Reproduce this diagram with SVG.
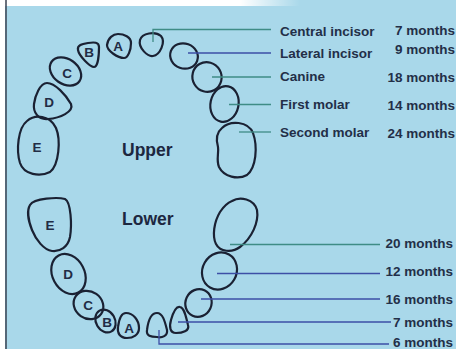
<svg xmlns="http://www.w3.org/2000/svg" width="456" height="349" viewBox="0 0 456 349">
  <defs>
    <linearGradient id="topFade" x1="0" y1="0" x2="1" y2="0">
      <stop offset="0" stop-color="#ffffff"/>
      <stop offset="0.8" stop-color="#ffffff"/>
      <stop offset="1" stop-color="#ffffff" stop-opacity="0"/>
    </linearGradient>
    <style>
      .tooth { fill: none; stroke: #1a2133; stroke-width: 2.2; stroke-linejoin: round; }
      .letter { font-family: "Liberation Sans", Arial, sans-serif; font-weight: bold; font-size: 13.5px; fill: #222c45; text-anchor: middle; }
      .jaw { font-family: "Liberation Sans", Arial, sans-serif; font-weight: bold; font-size: 17.5px; fill: #1d2740; }
      .name { font-family: "Liberation Sans", Arial, sans-serif; font-weight: bold; font-size: 13.5px; fill: #232f48; }
      .age { font-family: "Liberation Sans", Arial, sans-serif; font-weight: bold; font-size: 13.5px; fill: #232f48; text-anchor: end; }
      .lead { fill: none; stroke-width: 1.3; }
      .blue { stroke: #3d4fa6; }
      .teal { stroke: #3f8c86; }
    </style>
  </defs>

  <!-- page background -->
  <rect x="0" y="0" width="456" height="349" fill="#a9d8ea"/>
  <rect x="0" y="0" width="300" height="6" fill="url(#topFade)"/>
  <rect x="0" y="0" width="5" height="349" fill="#ffffff"/>
  <line x1="6" y1="0" x2="6" y2="349" stroke="#3a4250" stroke-width="1.5"/>

  <!-- jaw labels -->
  <text class="jaw" x="122" y="156">Upper</text>
  <text class="jaw" x="122" y="225">Lower</text>

  <!-- upper arch, left side (lettered) -->
  <g id="upper-A">
    <path class="tooth" d="M107,45 C108,38 113,34 118,34 C124,34 131,37 131,43 C131,50 128,58 124,58 C118,58 107,51 107,45 Z"/>
    <text class="letter" x="118" y="51">A</text>
  </g>
  <g id="upper-B">
    <path class="tooth" d="M78,50 C77,45 82,44 88,43 C94,42 99,42 99,47 C99,55 98,67 94,67 C90,67 79,56 78,50 Z"/>
    <text class="letter" x="89" y="57">B</text>
  </g>
  <g id="upper-C">
    <ellipse class="tooth" cx="65.5" cy="71.5" rx="17" ry="12.5" transform="rotate(35 65.5 71.5)"/>
    <text class="letter" x="67" y="78">C</text>
  </g>
  <g id="upper-D">
    <path class="tooth" d="M47,83 C55,83 66,95 71,104 C74,112 60,118 48,119 C38,120 33,112 34,104 C35,96 40,83 47,83 Z"/>
    <text class="letter" x="49" y="107">D</text>
  </g>
  <g id="upper-E">
    <path class="tooth" d="M27,121 C35,114 50,115 56,128 C61,140 59,165 50,172 C40,177 24,175 20,163 C16,150 18,128 27,121 Z"/>
    <text class="letter" x="37" y="152">E</text>
  </g>

  <!-- upper arch, right side (labelled with eruption age) -->
  <g id="upper-central-incisor">
    <path class="tooth" d="M140,40 C142,33 155,31 161,36 C166,42 160,55 153,56 C148,57 138,48 140,40 Z"/>
  </g>
  <g id="upper-lateral-incisor">
    <ellipse class="tooth" cx="184" cy="56" rx="14" ry="12.5" transform="rotate(20 184 56)"/>
  </g>
  <g id="upper-canine">
    <ellipse class="tooth" cx="207" cy="77" rx="14.5" ry="15" transform="rotate(-30 207 77)"/>
  </g>
  <g id="upper-first-molar">
    <ellipse class="tooth" cx="224.5" cy="104" rx="14" ry="18" transform="rotate(12 224.5 104)"/>
  </g>
  <g id="upper-second-molar">
    <path class="tooth" d="M222,128 C230,120 248,121 253,133 C258,147 256,168 247,175 C238,180 224,177 219,167 C216,160 219,153 218,147 C216,140 216,133 222,128 Z"/>
  </g>

  <!-- lower arch, left side (lettered) -->
  <g id="lower-E">
    <path class="tooth" d="M30,205 C34,198 58,197 65,199 C71,202 72,225 70,237 C68,247 60,252 52,251 C44,250 36,240 32,230 C28,220 27,210 30,205 Z"/>
    <text class="letter" x="50" y="230">E</text>
  </g>
  <g id="lower-D">
    <ellipse class="tooth" cx="68.5" cy="274" rx="16" ry="21" transform="rotate(-28 68.5 274)"/>
    <text class="letter" x="68" y="279">D</text>
  </g>
  <g id="lower-C">
    <ellipse class="tooth" cx="88.5" cy="305" rx="15.5" ry="13.5" transform="rotate(35 88.5 305)"/>
    <text class="letter" x="88" y="310">C</text>
  </g>
  <g id="lower-B">
    <ellipse class="tooth" cx="105.5" cy="321" rx="9.5" ry="12" transform="rotate(-30 105.5 321)"/>
    <text class="letter" x="107" y="327">B</text>
  </g>
  <g id="lower-A">
    <path class="tooth" d="M126,313 C133,313 139,320 139,328 C139,335 133,338 127,338 C120,338 117,333 118,327 C119,319 121,313 126,313 Z"/>
    <text class="letter" x="129" y="333">A</text>
  </g>

  <!-- lower arch, right side (labelled with eruption age) -->
  <g id="lower-central-incisor">
    <path class="tooth" d="M157,313 C163,313 165,322 167,330 C168,336 162,338 157,337 C151,337 146,336 147,330 C148,322 151,313 157,313 Z"/>
  </g>
  <g id="lower-lateral-incisor">
    <path class="tooth" d="M180,307 C185,308 186,318 188,325 C190,331 182,333 176,333 C170,333 169,327 171,320 C173,313 176,306 180,307 Z"/>
  </g>
  <g id="lower-canine">
    <ellipse class="tooth" cx="198.5" cy="303" rx="13" ry="14" transform="rotate(25 198.5 303)"/>
  </g>
  <g id="lower-first-molar">
    <ellipse class="tooth" cx="219.5" cy="271" rx="17" ry="19" transform="rotate(30 219.5 271)"/>
  </g>
  <g id="lower-second-molar">
    <path class="tooth" d="M232,201 C240,196 254,199 257,210 C259,222 252,238 240,247 C232,253 220,252 216,244 C212,236 214,222 220,212 C224,206 227,203 232,201 Z"/>
  </g>

  <!-- leader lines from teeth to captions -->
  <g id="connectors">
    <polyline class="lead teal" points="153,42 153,29.5 271,29.5"/>
    <line class="lead blue" x1="188" y1="53" x2="271" y2="53"/>
    <line class="lead teal" x1="212" y1="77" x2="271" y2="77"/>
    <line class="lead teal" x1="229" y1="104.5" x2="271" y2="104.5"/>
    <line class="lead teal" x1="239" y1="132" x2="271" y2="132"/>

    <line class="lead teal" x1="230" y1="244.5" x2="380" y2="244.5"/>
    <line class="lead blue" x1="217" y1="273.5" x2="380" y2="273.5"/>
    <line class="lead blue" x1="201" y1="299" x2="380" y2="299"/>
    <line class="lead blue" x1="178" y1="322" x2="391" y2="322"/>
    <polyline class="lead blue" points="159,330 159,344 389,344"/>
  </g>

  <!-- captions: upper -->
  <text class="name" x="280" y="36">Central incisor</text>
  <text class="age" x="455" y="34.5">7 months</text>
  <text class="name" x="280" y="58">Lateral incisor</text>
  <text class="age" x="455" y="54">9 months</text>
  <text class="name" x="280" y="81">Canine</text>
  <text class="age" x="455" y="82">18 months</text>
  <text class="name" x="280" y="109">First molar</text>
  <text class="age" x="455" y="110">14 months</text>
  <text class="name" x="280" y="137">Second molar</text>
  <text class="age" x="455" y="138">24 months</text>

  <!-- captions: lower -->
  <text class="age" x="453" y="248">20 months</text>
  <text class="age" x="453" y="276">12 months</text>
  <text class="age" x="453" y="304">16 months</text>
  <text class="age" x="453" y="327">7 months</text>
  <text class="age" x="453" y="346.5">6 months</text>
</svg>
